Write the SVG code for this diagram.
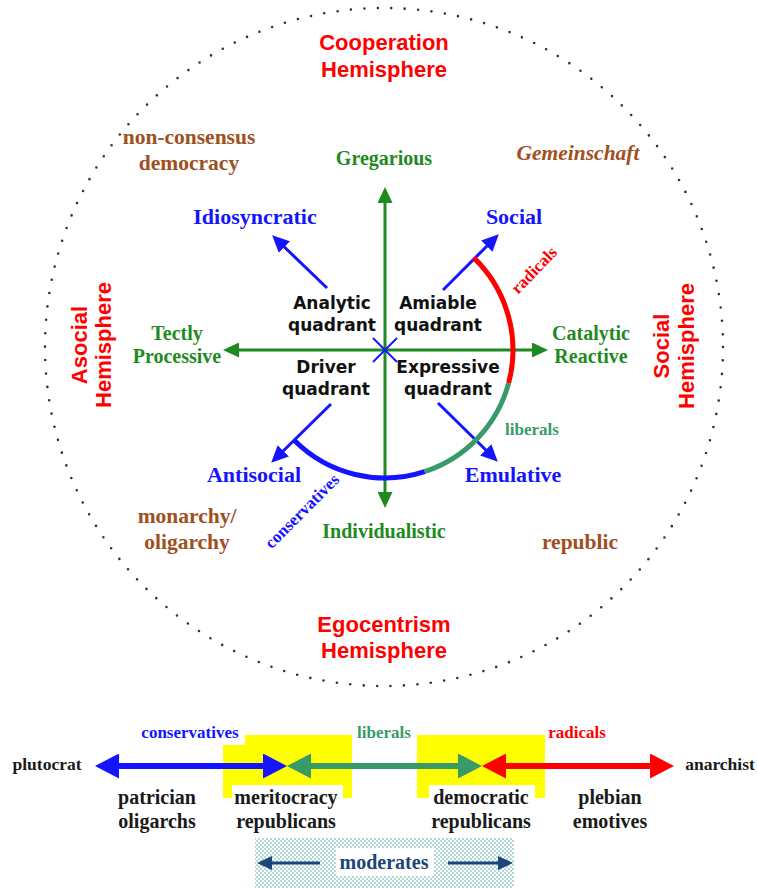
<svg xmlns="http://www.w3.org/2000/svg" width="757" height="888" viewBox="0 0 757 888">
  <style>
    .hemi { font-family: "Liberation Sans", Arial, sans-serif; font-weight: bold; font-size: 22px; fill: #ff0000; text-anchor: middle; }
    .serif { font-family: "Liberation Serif", "Times New Roman", serif; font-weight: bold; text-anchor: middle; }
    .brown { fill: #a0501e; font-size: 21.5px; }
    .axis { fill: #1f8a1f; font-size: 20px; }
    .trait { fill: #1414ff; font-size: 22px; }
    .quad { font-family: "DejaVu Sans", Verdana, sans-serif; font-weight: bold; font-size: 17px; fill: #111; text-anchor: middle; }
    .blk { fill: #1a1a1a; font-size: 20px; }
    .end { fill: #1a1a1a; font-size: 17.5px; }
    .faction { font-size: 17px; }
    .axisline { stroke: #1f8a1f; stroke-width: 3; fill: none; }
    .traitline { stroke: #1414ff; stroke-width: 3; fill: none; }
    .arc { fill: none; stroke-width: 5; }
    .spec { stroke-width: 6; fill: none; }
  </style>
  <defs>
    <marker id="gh" markerUnits="userSpaceOnUse" markerWidth="16" markerHeight="15" refX="12" refY="7.5" orient="auto-start-reverse">
      <path d="M0,0 L16,7.5 L0,15 z" fill="#1f8a1f"/>
    </marker>
    <marker id="bh" markerUnits="userSpaceOnUse" markerWidth="17" markerHeight="16" refX="13" refY="8" orient="auto-start-reverse">
      <path d="M0,0 L17,8 L0,16 z" fill="#1414ff"/>
    </marker>
    <marker id="bigBlue" markerUnits="userSpaceOnUse" markerWidth="24" markerHeight="25" refX="17" refY="12.5" orient="auto-start-reverse">
      <path d="M0,0 L24,12.5 L0,25 z" fill="#1414ff"/>
    </marker>
    <marker id="bigGreen" markerUnits="userSpaceOnUse" markerWidth="24" markerHeight="25" refX="17" refY="12.5" orient="auto-start-reverse">
      <path d="M0,0 L24,12.5 L0,25 z" fill="#379a68"/>
    </marker>
    <marker id="bigRed" markerUnits="userSpaceOnUse" markerWidth="24" markerHeight="25" refX="17" refY="12.5" orient="auto-start-reverse">
      <path d="M0,0 L24,12.5 L0,25 z" fill="#ff0000"/>
    </marker>
    <marker id="nh" markerUnits="userSpaceOnUse" markerWidth="15" markerHeight="14" refX="11" refY="7" orient="auto-start-reverse">
      <path d="M0,0 L15,7 L0,14 z" fill="#1c4677"/>
    </marker>
    <pattern id="stipple" width="4" height="4" patternUnits="userSpaceOnUse">
      <rect width="4" height="4" fill="#ffffff"/>
      <circle cx="1" cy="1" r="0.9" fill="#8cc6c6"/>
      <circle cx="3" cy="3" r="0.9" fill="#8cc6c6"/>
    </pattern>
  </defs>

  <rect width="757" height="888" fill="#ffffff"/>

  <!-- dotted boundary of the political sphere -->
  <circle id="sphere" cx="384" cy="347" r="339" fill="none" stroke="#333" stroke-width="2.6" stroke-linecap="round" stroke-dasharray="0 13.48"/>

  <!-- hemisphere labels -->
  <g id="cooperation"><text class="hemi" x="384" y="50">Cooperation</text><text class="hemi" x="384" y="77">Hemisphere</text></g>
  <g id="egocentrism"><text class="hemi" x="384" y="632">Egocentrism</text><text class="hemi" x="384" y="658">Hemisphere</text></g>
  <g id="asocial"><text class="hemi" transform="translate(87,345) rotate(-90)">Asocial</text><text class="hemi" transform="translate(111,345) rotate(-90)">Hemisphere</text></g>
  <g id="social-hemi"><text class="hemi" transform="translate(669,346) rotate(-90)">Social</text><text class="hemi" transform="translate(694,346) rotate(-90)">Hemisphere</text></g>

  <!-- forms of government -->
  <g id="nonconsensus"><text class="serif brown" x="189" y="144">non-consensus</text><text class="serif brown" x="189" y="170">democracy</text></g>
  <g id="gemeinschaft"><text class="serif brown" x="578" y="160" font-style="italic">Gemeinschaft</text></g>
  <g id="monarchy"><text class="serif brown" x="187" y="523">monarchy/</text><text class="serif brown" x="187" y="549">oligarchy</text></g>
  <g id="republic"><text class="serif brown" x="580" y="549">republic</text></g>

  <!-- connectors: axes, trait arrows and the political arc -->
  <g id="connectors">
    <line class="axisline" x1="385" y1="191" x2="385" y2="504" marker-start="url(#gh)" marker-end="url(#gh)"/>
    <line class="axisline" x1="227" y1="350" x2="544" y2="350" marker-start="url(#gh)" marker-end="url(#gh)"/>
    <line stroke="#1414ff" stroke-width="2" x1="373" y1="338" x2="397" y2="362"/>
    <line stroke="#1414ff" stroke-width="2" x1="397" y1="338" x2="373" y2="362"/>
    <line class="traitline" x1="327" y1="288" x2="275" y2="238" marker-end="url(#bh)"/>
    <line class="traitline" x1="443" y1="290" x2="496" y2="237" marker-end="url(#bh)"/>
    <line class="traitline" x1="331" y1="404" x2="274" y2="460" marker-end="url(#bh)"/>
    <line class="traitline" x1="438" y1="403" x2="495" y2="459" marker-end="url(#bh)"/>
    <path class="arc" stroke="#ff0000" d="M473.9,257.9 A128,128 0 0 1 508.6,383.1"/>
    <path class="arc" stroke="#379a68" d="M508.6,383.1 A128,128 0 0 1 424.6,471.7"/>
    <path class="arc" stroke="#1414ff" d="M424.6,471.7 A128,128 0 0 1 294.5,440.5"/>
  </g>

  <!-- axis ends -->
  <g id="gregarious"><text class="serif axis" x="384" y="165">Gregarious</text></g>
  <g id="individualistic"><text class="serif axis" x="384" y="538">Individualistic</text></g>
  <g id="tectly"><text class="serif axis" x="177" y="340">Tectly</text><text class="serif axis" x="177" y="363">Processive</text></g>
  <g id="catalytic"><text class="serif axis" x="591" y="340">Catalytic</text><text class="serif axis" x="591" y="363">Reactive</text></g>

  <!-- trait ends -->
  <g id="idiosyncratic"><text class="serif trait" x="255" y="224">Idiosyncratic</text></g>
  <g id="social"><text class="serif trait" x="514" y="224">Social</text></g>
  <g id="antisocial"><text class="serif trait" x="254" y="482">Antisocial</text></g>
  <g id="emulative"><text class="serif trait" x="513" y="482">Emulative</text></g>

  <!-- quadrants -->
  <g id="analytic"><text class="quad" x="332" y="309">Analytic</text><text class="quad" x="332" y="331">quadrant</text></g>
  <g id="amiable"><text class="quad" x="438" y="309">Amiable</text><text class="quad" x="438" y="331">quadrant</text></g>
  <g id="driver"><text class="quad" x="326" y="373">Driver</text><text class="quad" x="326" y="395">quadrant</text></g>
  <g id="expressive"><text class="quad" x="448" y="373">Expressive</text><text class="quad" x="448" y="395">quadrant</text></g>

  <!-- arc segment labels -->
  <g id="arc-radicals"><text class="serif faction" fill="#ff0000" font-size="16" transform="translate(538,274) rotate(-46)">radicals</text></g>
  <g id="arc-liberals"><text class="serif faction" fill="#379a68" font-size="16" x="532" y="435">liberals</text></g>
  <g id="arc-conservatives"><text class="serif faction" fill="#1414ff" font-size="16" transform="translate(306,515) rotate(-45)">conservatives</text></g>

  <!-- political spectrum -->
  <g id="zones">
    <rect x="223" y="735" width="129" height="63" fill="#ffff00"/>
    <rect x="417" y="735" width="128" height="63" fill="#ffff00"/>
  </g>
  <g id="spectrum-arrows">
    <line class="spec" stroke="#1414ff" x1="102" y1="766" x2="280" y2="766" marker-start="url(#bigBlue)" marker-end="url(#bigBlue)"/>
    <line class="spec" stroke="#379a68" x1="294" y1="766" x2="475" y2="766" marker-start="url(#bigGreen)" marker-end="url(#bigGreen)"/>
    <line class="spec" stroke="#ff0000" x1="489" y1="766" x2="667" y2="766" marker-start="url(#bigRed)" marker-end="url(#bigRed)"/>
  </g>
  <g id="spec-conservatives"><rect x="135" y="722" width="110" height="23" fill="#ffffff"/><text class="serif faction" fill="#1414ff" x="190" y="738">conservatives</text></g>
  <g id="spec-liberals"><text class="serif faction" fill="#379a68" x="384" y="738">liberals</text></g>
  <g id="spec-radicals"><text class="serif faction" fill="#ff0000" x="577" y="738">radicals</text></g>
  <g id="plutocrat"><text class="serif end" x="47" y="770">plutocrat</text></g>
  <g id="anarchist"><text class="serif end" x="720" y="770">anarchist</text></g>
  <g id="patrician"><text class="serif blk" x="157" y="804">patrician</text><text class="serif blk" x="157" y="828">oligarchs</text></g>
  <g id="meritocracy"><rect x="232" y="785" width="111" height="15" fill="#ffffff"/><text class="serif blk" x="286" y="804">meritocracy</text><text class="serif blk" x="286" y="828">republicans</text></g>
  <g id="democratic"><rect x="429" y="785" width="106" height="15" fill="#ffffff"/><text class="serif blk" x="481" y="804">democratic</text><text class="serif blk" x="481" y="828">republicans</text></g>
  <g id="plebian"><text class="serif blk" x="610" y="804">plebian</text><text class="serif blk" x="610" y="828">emotives</text></g>

  <g id="moderates">
    <rect x="255" y="838" width="259" height="50" fill="url(#stipple)"/>
    <rect x="336" y="848" width="98" height="28" fill="#ffffff"/>
    <line stroke="#1c4677" stroke-width="3" x1="320" y1="863" x2="261" y2="863" marker-end="url(#nh)"/>
    <line stroke="#1c4677" stroke-width="3" x1="448" y1="863" x2="509" y2="863" marker-end="url(#nh)"/>
    <text class="serif" fill="#1c4677" font-size="20" x="384" y="869">moderates</text>
  </g>
</svg>
